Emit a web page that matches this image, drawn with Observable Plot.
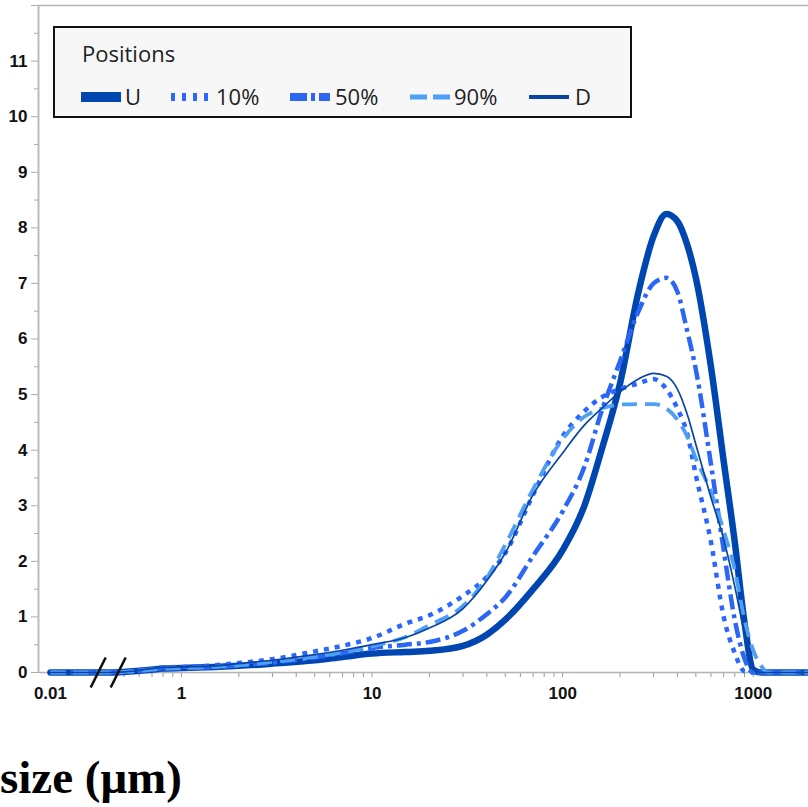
<!DOCTYPE html>
<html>
<head>
<meta charset="utf-8">
<script src="https://cdn.jsdelivr.net/npm/d3@7"></script>
<script src="https://cdn.jsdelivr.net/npm/@observablehq/plot@0.6"></script>
<style>
  html, body { margin: 0; padding: 0; background: #fff; }
  #wrap { position: relative; width: 808px; height: 807px; overflow: hidden; }
  #chart { position: absolute; left: 0; top: 0; }
  #chart svg text {
    font-family: "Liberation Sans", Arial, sans-serif !important;
    font-size: 17px !important; font-weight: bold !important; fill: #111 !important; }
  #legend { position: absolute; left: 53px; top: 26px; }
  #xtitle { position: absolute; left: 0; top: 754px; font-family: "Liberation Serif", serif; font-weight: bold; font-size: 47px; line-height: 47px; color: #000; white-space: nowrap; }
</style>
</head>
<body>
<div id="wrap">
  <div id="chart"></div>
  <svg id="legend" width="579" height="92"></svg>
  <div id="xtitle">size (μm)</div>
</div>
<script>
// ---- data (particle size in µm, volume %) ----
const sizes = [0.01, 0.4, 0.5, 0.6, 0.7, 0.8, 1, 1.5, 2, 3, 5, 7, 10, 15, 20, 30, 40, 50, 70, 100, 130, 160, 200, 250, 300, 350, 400, 450, 500, 600, 700, 800, 900, 1000, 1100, 1200, 2000];
const valuesU   = [0, 0, 0.01, 0.03, 0.05, 0.07, 0.08, 0.10, 0.12, 0.16, 0.22, 0.28, 0.34, 0.37, 0.39, 0.48, 0.68, 0.95, 1.50, 2.20, 3.00, 4.00, 5.20, 6.85, 7.85, 8.25, 8.12, 7.70, 7.10, 5.50, 3.80, 2.35, 0.90, 0.05, 0, 0, 0];
const values10  = [0, 0, 0.01, 0.04, 0.07, 0.09, 0.10, 0.13, 0.17, 0.24, 0.38, 0.48, 0.62, 0.88, 1.03, 1.38, 1.72, 2.15, 3.20, 4.25, 4.70, 4.95, 5.10, 5.20, 5.28, 5.10, 4.75, 4.30, 3.55, 2.35, 1.00, 0.35, 0.02, 0, 0, 0, 0];
const values50  = [0, 0, 0.01, 0.03, 0.05, 0.07, 0.08, 0.10, 0.13, 0.18, 0.27, 0.35, 0.44, 0.50, 0.55, 0.75, 1.05, 1.35, 2.10, 2.90, 3.70, 4.70, 5.60, 6.50, 7.00, 7.10, 6.85, 6.15, 5.45, 3.75, 2.20, 0.95, 0.25, 0, 0, 0, 0];
const values90  = [0, 0, 0.01, 0.03, 0.05, 0.07, 0.08, 0.10, 0.13, 0.19, 0.28, 0.36, 0.47, 0.64, 0.85, 1.20, 1.70, 2.30, 3.30, 4.20, 4.60, 4.75, 4.82, 4.83, 4.83, 4.75, 4.55, 4.25, 3.85, 3.25, 2.55, 1.85, 0.95, 0.40, 0.12, 0, 0];
const valuesD   = [0, 0, 0.01, 0.04, 0.07, 0.09, 0.10, 0.12, 0.16, 0.22, 0.32, 0.40, 0.50, 0.63, 0.80, 1.15, 1.65, 2.15, 3.20, 3.95, 4.45, 4.75, 5.05, 5.28, 5.38, 5.33, 5.10, 4.65, 4.10, 3.15, 2.40, 1.55, 0.70, 0.05, 0, 0, 0];
const seriesNames = ["U", "10%", "50%", "90%", "D"];
const xLabelTicks = [0.01, 1, 10, 100, 1000];
const xMinorTicks = [0.5, 0.6, 0.7, 0.8, 0.9, 2, 3, 4, 5, 6, 7, 8, 9, 20, 30, 40, 50, 60, 70, 80, 90, 200, 300, 400, 500, 600, 700, 800, 900];
const yMajorTicks = [0, 1, 2, 3, 4, 5, 6, 7, 8, 9, 10, 11, 12];
const yMinorTicks = [0.5, 1.5, 2.5, 3.5, 4.5, 5.5, 6.5, 7.5, 8.5, 9.5, 10.5, 11.5];
const axisBreak = 0.4;   // µm: below this the log axis is compressed (// marks)
const xExtent = [0.0045, 1950];

// ---- styles ----
const colors = {"U": "#0046b0", "10%": "#2a66ff", "50%": "#2c66f5", "90%": "#4f9ff5", "D": "#0a45a4"};
const widths = {"U": 6.5, "10%": 4.5, "50%": 4.5, "90%": 3.8, "D": 1.7};
const dashes = {"U": null, "10%": "5 6", "50%": "15 5 4 5", "90%": "15 8", "D": null};

// broken log axis: log10 above the break, compressed log below it
const K = 0.18087;
function pos(s) {
  const L = Math.log10(s), B = Math.log10(axisBreak);
  return s >= axisBreak ? L : B - (B - L) * K;
}

const valueArrays = {"U": valuesU, "10%": values10, "50%": values50, "90%": values90, "D": valuesD};
const rows = seriesNames.flatMap(name => sizes.map((s, i) => ({series: name, size: s, p: pos(s), v: valueArrays[name][i]})));

const labelMap = new Map(xLabelTicks.map(t => [pos(t), String(t)]));

const slash = {
  draw(ctx) {
    ctx.moveTo(-15, 15); ctx.lineTo(0, -15);
    ctx.moveTo(5, 15); ctx.lineTo(20, -15);
  }
};

const lineMarks = seriesNames.map(name => Plot.line(rows.filter(r => r.series === name), {
  x: "p", y: "v", curve: "monotone-x",
  stroke: colors[name], strokeWidth: widths[name],
  strokeDasharray: dashes[name] || undefined,
  strokeLinejoin: "round", strokeLinecap: dashes[name] ? "butt" : "round"
}));

const chart = Plot.plot({
  width: 808, height: 720,
  marginLeft: 38, marginRight: 0, marginTop: 5, marginBottom: 48,
  x: {type: "linear", domain: xExtent.map(pos)},
  y: {type: "linear", domain: [0, 12]},
  style: {background: "transparent", overflow: "visible"},
  marks: [
    Plot.ruleY([12], {stroke: "#b4b4b4", strokeWidth: 1.5}),
    Plot.axisY(yMinorTicks, {tickSize: 4, tickFormat: () => "", stroke: "#aaa", label: null}),
    Plot.axisY(yMajorTicks.filter(t => t < 12), {tickSize: 7, tickPadding: 4, stroke: "#aaa", fill: "#111",
      tickFormat: d => String(d), label: null}),
    Plot.axisY([12], {tickSize: 7, tickFormat: () => "", stroke: "#aaa", label: null}),
    Plot.axisX(xMinorTicks.map(pos), {tickSize: 5, tickFormat: () => "", stroke: "#999", label: null}),
    Plot.axisX([1, 10, 100, 1000].map(pos), {tickSize: 5, tickPadding: 9, stroke: "#999", fill: "#111",
      tickFormat: p => labelMap.get(p), label: null}),
    Plot.axisX([0.01].map(pos), {tickSize: 0, tickPadding: 14, fill: "#111",
      tickFormat: p => labelMap.get(p), label: null}),
    Plot.ruleY([0], {stroke: "#b4b4b4", strokeWidth: 1.5}),
    Plot.ruleX([pos(xExtent[0])], {stroke: "#bcbcbc", strokeWidth: 2}),
    ...lineMarks,
    Plot.dot([axisBreak], {x: d => pos(d), y: () => 0, symbol: slash, r: 10, stroke: "#111", strokeWidth: 2.6, fill: "none"})
  ]
});
document.getElementById("chart").appendChild(chart);

// ---- legend ----
const lg = d3.select("#legend");
lg.append("rect").attr("x", 1).attr("y", 1).attr("width", 577).attr("height", 90)
  .attr("fill", "#f7f7f7").attr("stroke", "#111").attr("stroke-width", 2);
lg.append("text").attr("x", 29).attr("y", 36).text("Positions")
  .attr("font-family", '"Open Sans", sans-serif').attr("font-size", 22).attr("fill", "#222");
const legendItems = [
  {name: "U",   x0: 28,  tx: 72,  w: 10},
  {name: "10%", x0: 118, tx: 163, w: 8, dash: "4 7"},
  {name: "50%", x0: 237, tx: 282, w: 8, dash: "17 4 4 4"},
  {name: "90%", x0: 357, tx: 401, w: 5, dash: "17 6"},
  {name: "D",   x0: 476, tx: 522, w: 4}
];
for (const it of legendItems) {
  const ln = lg.append("line").attr("x1", it.x0).attr("x2", it.x0 + 40).attr("y1", 71).attr("y2", 71)
    .attr("stroke", colors[it.name]).attr("stroke-width", it.w);
  if (it.dash) ln.attr("stroke-dasharray", it.dash);
  lg.append("text").attr("x", it.tx).attr("y", 79).text(it.name)
    .attr("font-family", '"Open Sans", sans-serif').attr("font-size", 22).attr("fill", "#222");
}
</script>
</body>
</html>
